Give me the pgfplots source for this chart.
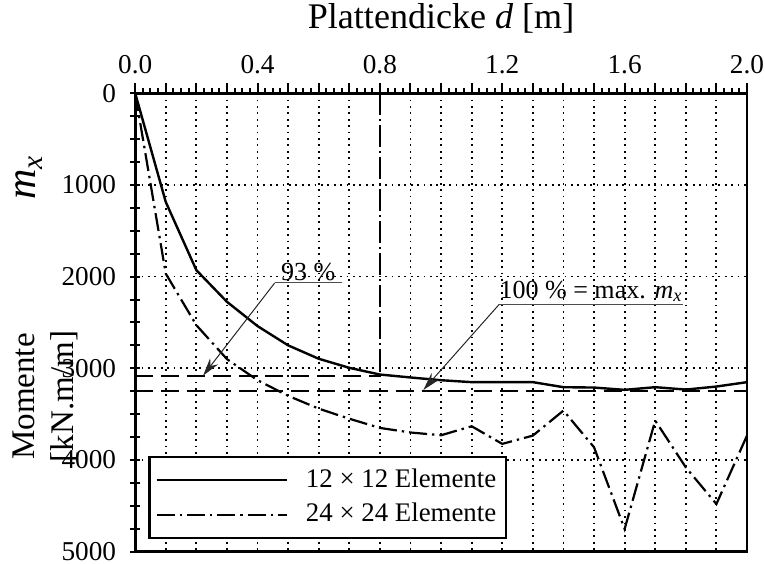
\documentclass[border=0pt]{standalone}
\usepackage{fontspec}
\setmainfont{Liberation Serif}
\usepackage{pgfplots}
\pgfplotsset{compat=1.18}
\usetikzlibrary{arrows.meta}

\newcommand{\tickfont}{\fontsize{13.6}{15}\selectfont}
\begin{document}
\fontsize{13}{15}\selectfont
\begin{tikzpicture}
\path[use as bounding box] (-67.5pt,-6pt) rectangle (314.5pt,275.5pt);
\begin{axis}[
  at={(0,0)}, anchor=south west,
  scale only axis, width=305.5pt, height=229pt,
  xmin=0, xmax=2, ymin=0, ymax=5000,
  y dir=reverse,
  clip=false,
  axis line style={line width=1.4pt},
  xticklabel pos=upper, xtick pos=upper, ytick pos=left,
  xtick={0,0.4,...,2.0},
  minor x tick num=3,
  extra x ticks={0.025,0.05,...,1.99},
  extra x tick labels={},
  extra x tick style={grid=none, major tick length=2.5pt},
  ytick={0,1000,...,5000},
  minor y tick num=3,
  xticklabel={\tickfont\pgfmathprintnumber[assume math mode=true,fixed,fixed zerofill,precision=1]{\tick}},
  yticklabel={\tickfont\pgfmathprintnumber[assume math mode=true,fixed,precision=0,1000 sep={}]{\tick}},
  yticklabel style={inner ysep=0pt},
  tick align=outside,
  major tick length=5pt, minor tick length=5pt,
  tick style={line width=1pt, black},
  y tick style={xshift=2.5pt},
  xmajorgrids, xminorgrids, ymajorgrids,
  grid style={line width=0.9pt, black, dash pattern=on 0.9pt off 2.3pt},
  minor grid style={line width=0.9pt, black, dash pattern=on 0.9pt off 2.3pt},
  legend style={at={(axis cs:0.0425,3952)}, anchor=north west,
    draw=black, line width=1.2pt, fill=white,
    font=\fontsize{13.4}{15}\selectfont, row sep=2pt,
    inner xsep=3pt, inner ysep=4pt, cells={anchor=west}},
  legend image code/.code={\draw[#1] (0pt,0pt) -- (65pt,0pt); \path (72pt,0pt);},
]
% reference lines
\addplot[forget plot, line width=1pt, dash pattern=on 9pt off 4pt] coordinates {(0,3086) (0.8,3086)};
\addplot[forget plot, line width=1pt, dash pattern=on 9pt off 4pt] coordinates {(0,3250) (2.0,3250)};
\addplot[forget plot, line width=1.1pt, dash pattern=on 11pt off 2pt on 1pt off 2pt] coordinates {(0.8,0) (0.8,3086)};

\addplot[line width=1.2pt] coordinates {
 (0,0) (0.1,1187) (0.2,1930) (0.3,2275) (0.4,2540) (0.5,2750) (0.6,2896)
 (0.7,2995) (0.8,3068) (0.9,3100) (1.0,3130) (1.1,3151) (1.2,3151) (1.3,3151)
 (1.4,3206) (1.5,3210) (1.6,3235) (1.7,3206) (1.8,3232) (1.9,3199) (2.0,3151)};
\addplot[line width=1.1pt, dash pattern=on 9pt off 2.5pt on 1.2pt off 2.5pt] coordinates {
 (0,0) (0.1,1968) (0.2,2530) (0.3,2900) (0.4,3130) (0.5,3300) (0.6,3440)
 (0.7,3550) (0.8,3650) (0.9,3700) (1.0,3730) (1.1,3632) (1.2,3824) (1.3,3734)
 (1.4,3461) (1.5,3861) (1.6,4752) (1.7,3570) (1.8,4080) (1.9,4480) (2.0,3734)};
\legend{12 × 12 Elemente, 24 × 24 Elemente}

% annotations
\draw[gray!60!black, line width=0.5pt] (axis cs:0.677,2070) -- (axis cs:0.456,2070);
\draw[gray!30!black, line width=0.5pt, -{Stealth[length=9pt,width=5pt]}] (axis cs:0.456,2070) -- (axis cs:0.222,3080);
\node[anchor=south, inner sep=1pt] at (axis cs:0.566,2070) {93 \%};
\draw[gray!60!black, line width=0.5pt] (axis cs:1.79,2303) -- (axis cs:1.19,2303);
\draw[gray!30!black, line width=0.5pt, -{Stealth[length=9pt,width=5pt]}] (axis cs:1.19,2303) -- (axis cs:0.942,3236);
\node[anchor=south, inner sep=1pt] at (axis cs:1.49,2303) {100 \% = max. \textit{m}\textsubscript{\textit{x}}};

% labels
\node[font=\fontsize{18}{21}\selectfont] at (axis cs:1.0,-819) {Plattendicke \textit{d} [m]};
\node[rotate=90, font=\fontsize{21}{24}\selectfont] at (axis cs:-0.347,917) {\textit{m}\textsubscript{\textit{x}}};
\node[rotate=90, align=center, font=\fontsize{16.5}{19.5}\selectfont] at (axis cs:-0.2946,3308) {Momente\\{}[kN.m/m]};
\end{axis}
\end{tikzpicture}
\end{document}
